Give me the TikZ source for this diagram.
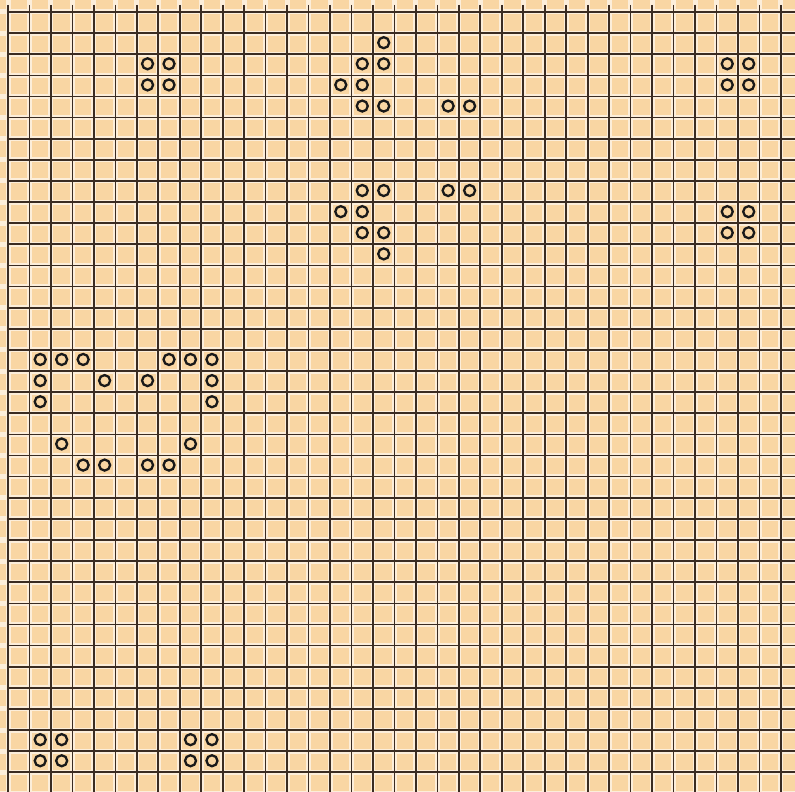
\documentclass[tikz,border=0pt]{standalone}
\definecolor{paper}{HTML}{FCEEDA}
\definecolor{peach}{HTML}{F9D6A3}
\definecolor{ink}{HTML}{3A2C22}
\begin{document}
\begin{tikzpicture}[x=1pt, y=-1pt,
  square/.style={fill=peach},
  rule/.style={draw=ink, line width=1.7pt},
  cell/.style={draw=black!90, circle, line width=2.3pt, minimum size=11pt, inner sep=0pt}]
\fill[paper] (0,0) rectangle (795,792);
\useasboundingbox (0,0) rectangle (795,792);
\begin{scope}
\clip (0,0) rectangle (795,792);
% squares of the board
\foreach \i in {-1,...,37}
  \foreach \j in {-1,...,37}
    \fill[square] ({8+21.47*\i+2.5},{12+21.12*\j+2.5}) rectangle ++(16.5,16.1);
% rules
\foreach \i in {0,...,37}
  \draw[rule] ({8+21.47*\i},5) -- ({8+21.47*\i},792);
\foreach \j in {0,...,37}
  \draw[rule] (8,{12+21.12*\j}) -- (795,{12+21.12*\j});
\end{scope}
% live cells
\foreach \i/\j in {6/2,7/2,6/3,7/3,
  17/1,16/2,17/2,15/3,16/3,16/4,17/4,20/4,21/4,
  16/8,17/8,20/8,21/8,15/9,16/9,16/10,17/10,17/11,
  33/2,34/2,33/3,34/3,33/9,34/9,33/10,34/10,
  1/16,2/16,3/16,7/16,8/16,9/16,1/17,4/17,6/17,9/17,1/18,9/18,
  2/20,8/20,3/21,4/21,6/21,7/21,
  1/34,2/34,8/34,9/34,1/35,2/35,8/35,9/35}
  \node[cell] (c\i-\j) at ({8+21.47*(\i+0.5)},{12+21.12*(\j+0.5)-1}) {};
\end{tikzpicture}
\end{document}
